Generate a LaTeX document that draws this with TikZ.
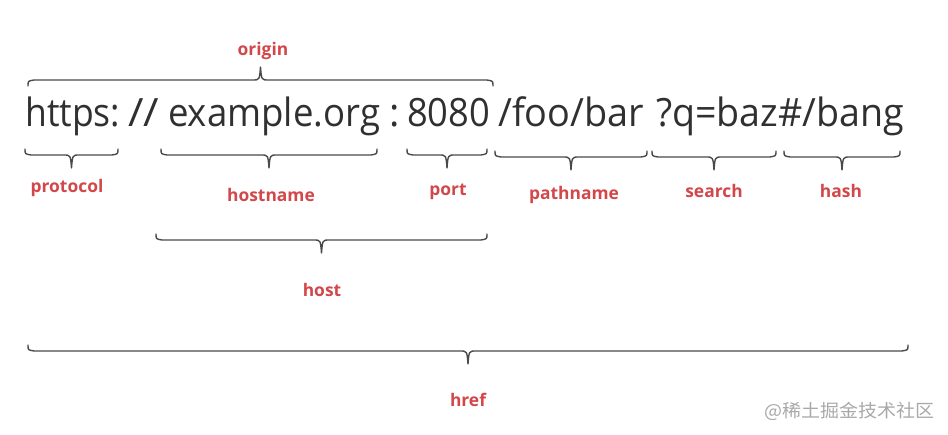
\documentclass[tikz,border=0pt]{standalone}
\usepackage{fontspec}
\usepackage{graphicx}
\setmainfont{Open Sans}
\newfontfamily\cjkfont{Noto Sans CJK SC}
\usetikzlibrary{calc}
\definecolor{urltext}{HTML}{303030}
\definecolor{partred}{HTML}{D2474A}
\definecolor{bracegray}{HTML}{4A4A4A}
\definecolor{markgray}{HTML}{A8A8A8}
% squeeze a text piece to a given width, keeping its height
\newcommand{\fitwidth}[2]{\resizebox{#1}{\height}{#2}}
% curly brace below a span (tip pointing down); #1,#2 = end points on the bar line
\newcommand{\spanbelow}[2]{%
  \coordinate (#1-#2-mid) at ($(#1)!0.5!(#2)$);
  \draw[bracestroke] ($(#1)+(0,-6)$) .. controls ($(#1)+(0,-1)$) .. ($(#1)+(6,0)$)
    -- ($(#1-#2-mid)+(-8,0)$) .. controls ($(#1-#2-mid)+(-1,0)$) .. ($(#1-#2-mid)+(0,13)$)
    .. controls ($(#1-#2-mid)+(1,0)$) .. ($(#1-#2-mid)+(8,0)$)
    -- ($(#2)+(-6,0)$) .. controls ($(#2)+(0,-1)$) .. ($(#2)+(0,-6)$);}
% curly brace above a span (tip pointing up)
\newcommand{\spanabove}[2]{%
  \coordinate (#1-#2-mid) at ($(#1)!0.5!(#2)$);
  \draw[bracestroke] ($(#1)+(0,6)$) .. controls ($(#1)+(0,1)$) .. ($(#1)+(6,0)$)
    -- ($(#1-#2-mid)+(-8,0)$) .. controls ($(#1-#2-mid)+(-1,0)$) .. ($(#1-#2-mid)+(0,-13)$)
    .. controls ($(#1-#2-mid)+(1,0)$) .. ($(#1-#2-mid)+(8,0)$)
    -- ($(#2)+(-6,0)$) .. controls ($(#2)+(0,1)$) .. ($(#2)+(0,6)$);}
\begin{document}
\begin{tikzpicture}[x=1pt,y=-1pt,
  urlpart/.style={anchor=base west,inner sep=0pt,text=urltext,font=\fontsize{39}{42}\selectfont},
  partlabel/.style={inner sep=0pt,text=partred,font=\fontsize{17.4}{20}\selectfont\bfseries},
  bracestroke/.style={draw=bracegray,line width=1.4pt,line cap=round,line join=round}]
\useasboundingbox (0,0) rectangle (948,435);

% URL pieces
\node[urlpart] (scheme) at (25,127) {\fitwidth{95pt}{https:}};
\node[urlpart] (slashes) at (128,127) {\fitwidth{31pt}{//}};
\node[urlpart] (domain) at (168,127) {\fitwidth{212pt}{example.org}};
\node[urlpart] (colon) at (389,127) {:};
\node[urlpart] (portnum) at (407,127) {\fitwidth{83pt}{8080}};
\node[urlpart] (path) at (498,127) {\fitwidth{146pt}{/foo/bar}};
\node[urlpart] (query) at (656,127) {\fitwidth{248pt}{?q=baz\#/bang}};

% bar lines of the braces
\coordinate (o1) at (28,80);   \coordinate (o2) at (493,80);
\coordinate (p1) at (25,155);  \coordinate (p2) at (118,155);
\coordinate (h1) at (161,155); \coordinate (h2) at (377,155);
\coordinate (t1) at (407,155); \coordinate (t2) at (487,155);
\coordinate (n1) at (495,157); \coordinate (n2) at (647,157);
\coordinate (s1) at (652,157); \coordinate (s2) at (776,157);
\coordinate (a1) at (784,157); \coordinate (a2) at (900,157);
\coordinate (k1) at (156,240); \coordinate (k2) at (487,240);
\coordinate (f1) at (28,351);  \coordinate (f2) at (908,351);

% braces
\spanabove{o1}{o2}
\spanbelow{p1}{p2}
\spanbelow{h1}{h2}
\spanbelow{t1}{t2}
\spanbelow{n1}{n2}
\spanbelow{s1}{s2}
\spanbelow{a1}{a2}
\spanbelow{k1}{k2}
\spanbelow{f1}{f2}

% labels
\node[partlabel] (origin) at (263,51) {origin};
\node[partlabel] (protocol) at (67,188) {protocol};
\node[partlabel] (hostname) at (271,195) {hostname};
\node[partlabel] (port) at (448,192) {port};
\node[partlabel] (pathname) at (574,195) {pathname};
\node[partlabel] (search) at (714,191) {search};
\node[partlabel] (hash) at (841,191) {hash};
\node[partlabel] (host) at (322,290) {host};
\node[partlabel] (href) at (468,400) {href};

% watermark
\node[anchor=east,inner sep=0pt,text=markgray,font=\cjkfont\fontsize{18}{20}\selectfont] (mark) at (935,411) {\fitwidth{170pt}{@稀土掘金技术社区}};
\end{tikzpicture}
\end{document}
